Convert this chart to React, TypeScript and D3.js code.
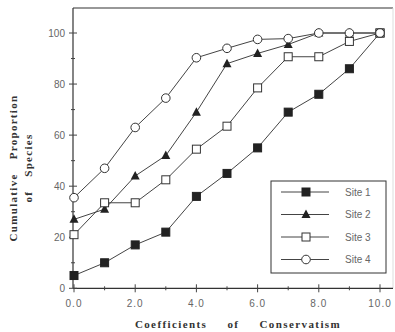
import React, { useEffect, useRef } from 'react';
import * as d3 from 'd3';

// coefficient values 0..10
const coefficients = [0, 1, 2, 3, 4, 5, 6, 7, 8, 9, 10];
const site1 = [5, 10, 17, 22, 36, 45, 55, 69, 76, 86, 100];
const site2 = [27, 31, 44, 52, 69, 88, 92, 95.5, 100, 100, 100];
const site3 = [21, 33.5, 33.5, 42.5, 54.5, 63.5, 78.5, 90.7, 90.7, 96.7, 100];
const site4 = [35.5, 47, 63, 74.5, 90.3, 94, 97.5, 97.8, 100, 100, 100];
const siteNames = ['Site 1', 'Site 2', 'Site 3', 'Site 4'];
const markers = ['fsquare', 'triangle', 'osquare', 'circle'];
const xTickLabels = ['0.0', '2.0', '4.0', '6.0', '8.0', '10.0'];
const yTickValues = [0, 20, 40, 60, 80, 100];

export default function App() {
  const svgRef = useRef<SVGSVGElement>(null);

  useEffect(() => {
    const svg = d3.select(svgRef.current);
    svg.selectAll('*').remove();

    const x = d3.scaleLinear().domain([0, 10]).range([74, 380]);
    const y = d3.scaleLinear().domain([0, 100]).range([288.3, 33]);
    const left = 73, right = 393, top = 8, bottom = y(0);

    svg.append('rect').attr('width', 395).attr('height', 332).attr('fill', '#fff');

    // frame
    svg.append('line').attr('x1', left).attr('x2', right).attr('y1', top).attr('y2', top)
      .attr('stroke', '#333').attr('stroke-width', 1.2);
    svg.append('line').attr('x1', right).attr('x2', right).attr('y1', top).attr('y2', bottom)
      .attr('stroke', '#ddd').attr('stroke-width', 1);
    svg.append('line').attr('x1', left).attr('x2', left).attr('y1', top).attr('y2', bottom)
      .attr('stroke', '#333').attr('stroke-width', 1.2);
    svg.append('line').attr('x1', left).attr('x2', right).attr('y1', bottom).attr('y2', bottom)
      .attr('stroke', '#333').attr('stroke-width', 1.2);

    const axes = svg.append('g').attr('stroke', '#444').attr('stroke-width', 1);
    d3.range(0, 10.01, 1).forEach((v) => {
      const major = v % 2 === 0;
      axes.append('line').attr('x1', x(v)).attr('x2', x(v))
        .attr('y1', bottom - (major ? 4 : 2)).attr('y2', bottom + (major ? 4 : 2));
    });
    d3.range(0, 100.1, 10).forEach((v) => {
      const major = v % 20 === 0;
      axes.append('line').attr('y1', y(v)).attr('y2', y(v))
        .attr('x1', left - (major ? 4 : 2)).attr('x2', left + (major ? 4 : 2));
    });

    xTickLabels.forEach((t, i) => {
      svg.append('text').attr('x', x(i * 2)).attr('y', 307).attr('text-anchor', 'middle')
        .attr('font-family', 'Liberation Sans, Arial, sans-serif').attr('font-size', 10)
        .attr('fill', '#666').attr('letter-spacing', 1).text(t);
    });
    yTickValues.forEach((v) => {
      svg.append('text').attr('x', 65).attr('y', y(v) + 3.5).attr('text-anchor', 'end')
        .attr('font-family', 'Liberation Sans, Arial, sans-serif').attr('font-size', 10)
        .attr('fill', '#666').text(String(v));
    });

    const drawMarker = (g: any, kind: string, cx: number, cy: number) => {
      if (kind === 'fsquare') {
        g.append('rect').attr('x', cx - 4).attr('y', cy - 4).attr('width', 8).attr('height', 8)
          .attr('fill', '#222').attr('stroke', '#222');
      } else if (kind === 'osquare') {
        g.append('rect').attr('x', cx - 4).attr('y', cy - 4).attr('width', 8).attr('height', 8)
          .attr('fill', '#fff').attr('stroke', '#333').attr('stroke-width', 1);
      } else if (kind === 'triangle') {
        g.append('path').attr('d', `M${cx},${cy - 5}L${cx + 4.5},${cy + 3.5}L${cx - 4.5},${cy + 3.5}Z`)
          .attr('fill', '#222');
      } else {
        g.append('circle').attr('cx', cx).attr('cy', cy).attr('r', 4.3)
          .attr('fill', '#fff').attr('stroke', '#333').attr('stroke-width', 1);
      }
    };

    const series = [site1, site2, site3, site4];
    const line = d3.line<number>().x((_, i) => x(coefficients[i])).y((d) => y(d));
    series.forEach((s, k) => {
      const g = svg.append('g');
      g.append('path').attr('d', line(s)).attr('fill', 'none').attr('stroke', '#444').attr('stroke-width', 1);
      s.forEach((v, i) => drawMarker(g, markers[k], x(coefficients[i]), y(v)));
    });

    // legend
    const lg = svg.append('g');
    lg.append('rect').attr('x', 271).attr('y', 181).attr('width', 115).attr('height', 92)
      .attr('fill', '#fff').attr('stroke', '#333').attr('stroke-width', 1);
    siteNames.forEach((name, k) => {
      const ly = 192 + k * 22.5;
      lg.append('line').attr('x1', 281).attr('x2', 329).attr('y1', ly).attr('y2', ly)
        .attr('stroke', '#444').attr('stroke-width', 1);
      drawMarker(lg, markers[k], 306, ly);
      lg.append('text').attr('x', 345).attr('y', ly + 3.5)
        .attr('font-family', 'Liberation Sans, Arial, sans-serif').attr('font-size', 10)
        .attr('fill', '#666').text(name);
    });

    // axis titles
    svg.append('text').attr('x', 238).attr('y', 328).attr('text-anchor', 'middle')
      .attr('font-family', 'Liberation Serif, Times New Roman, serif').attr('font-size', 11)
      .attr('font-weight', 'bold').attr('fill', '#333').attr('letter-spacing', 1.4)
      .attr('word-spacing', 16).text('Coefficients of Conservatism');
    const yt = svg.append('text').attr('transform', 'translate(17,168) rotate(-90)')
      .attr('text-anchor', 'middle')
      .attr('font-family', 'Liberation Serif, Times New Roman, serif').attr('font-size', 11)
      .attr('font-weight', 'bold').attr('fill', '#333').attr('letter-spacing', 1.3)
      .attr('word-spacing', 10);
    yt.append('tspan').attr('x', 0).attr('dy', 0).text('Cumulative Proportion');
    yt.append('tspan').attr('x', 0).attr('dy', 15).text('of Species');
  }, []);

  return (
    <svg ref={svgRef} width={395} height={332}
      style={{ position: 'absolute', left: 0, top: 0 }} />
  );
}
